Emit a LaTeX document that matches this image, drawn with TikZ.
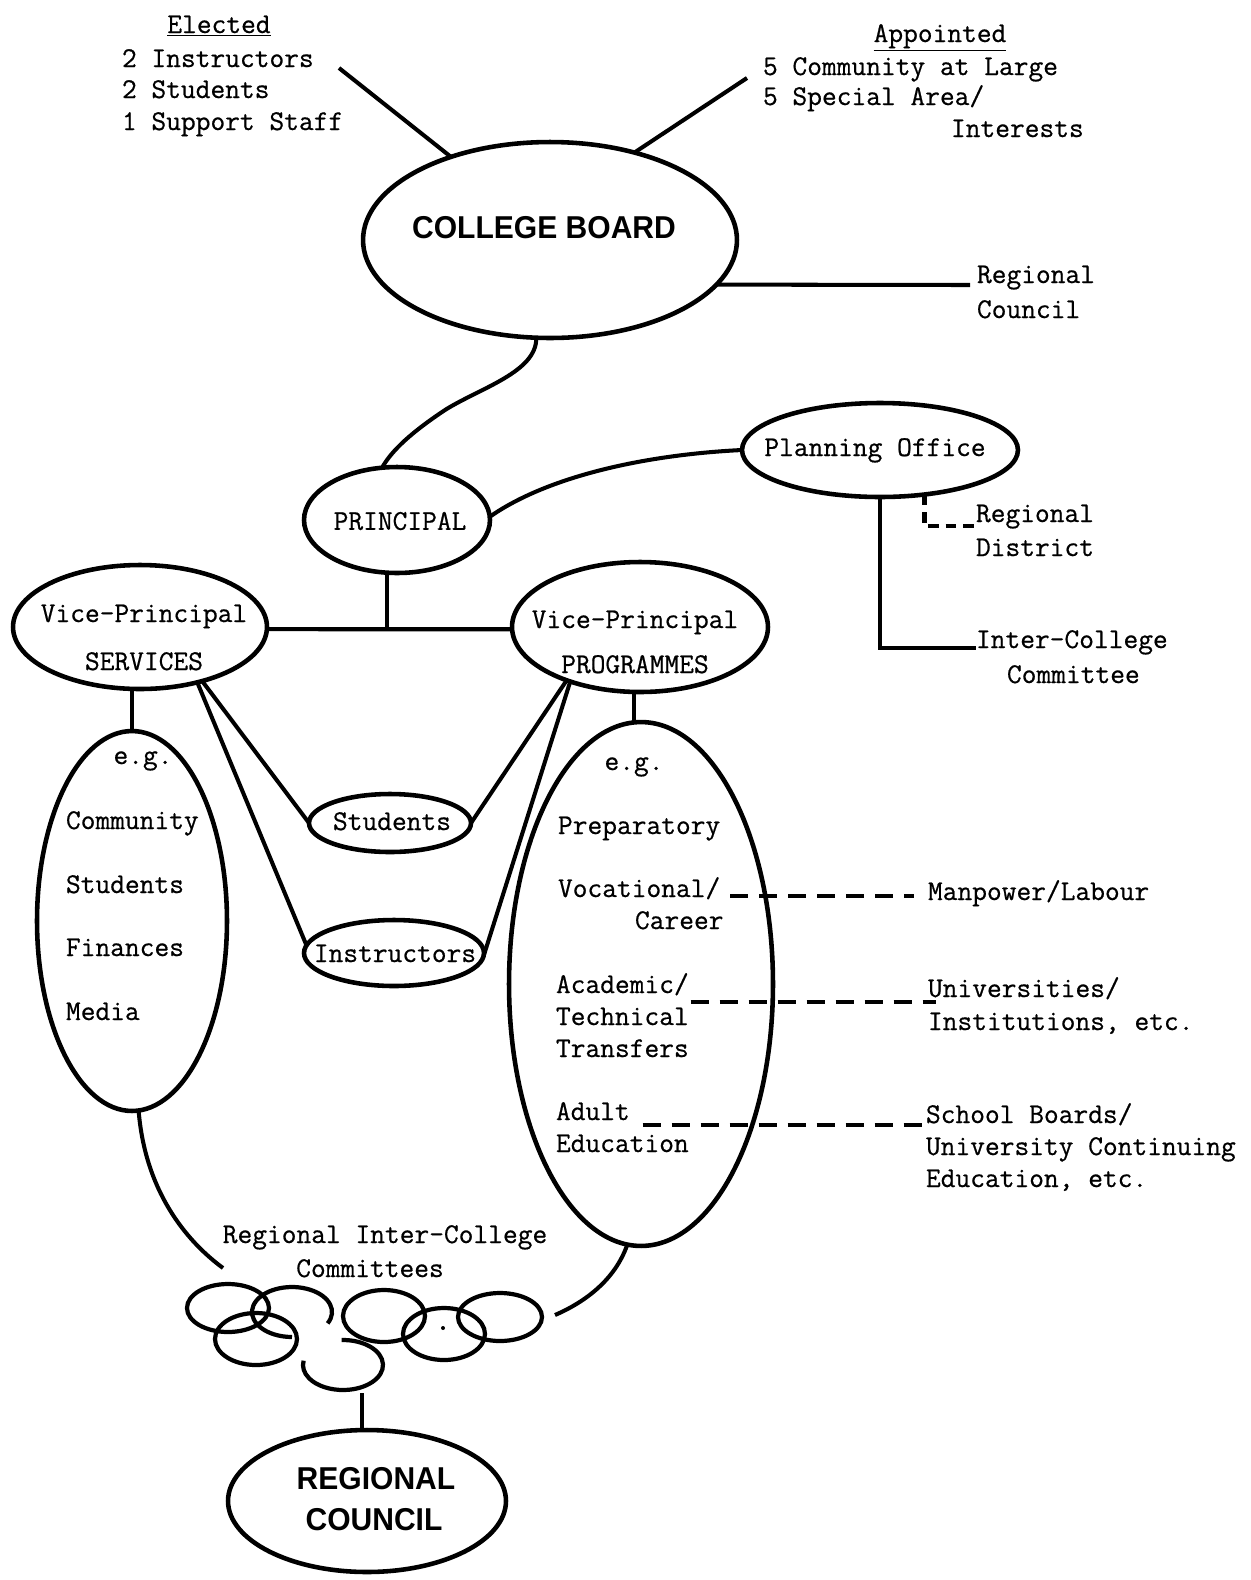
\documentclass[tikz,border=0pt]{standalone}
\usepackage{graphicx}
\usepackage{fontspec}
\newfontfamily\tw{Latin Modern Mono}[FakeBold=0.6]
\newfontfamily\headfont{Liberation Sans}
\usetikzlibrary{shapes.geometric}
\newcommand{\bighead}[1]{\scalebox{0.95}[1.0]{\headfont\fontsize{18}{18}\selectfont\bfseries #1}}
\begin{document}
\begin{tikzpicture}[x=0.02cm,y=-0.02cm,
  every node/.style={inner sep=0pt, outer sep=0pt},
  txt/.style={font=\tw\fontsize{16.3}{20}\selectfont},
  tl/.style={txt, anchor=base west},
  tc/.style={txt, anchor=base},
  oval/.style={draw, ellipse, line width=2.6pt},
  conn/.style={line width=2.3pt},
  dconn/.style={line width=2.6pt, dash pattern=on 0.36cm off 0.22cm},
  ring/.style={line width=2.4pt}]
\fill[white] (0,0) rectangle (1251,1580);
\useasboundingbox (0,0) rectangle (1251,1580);

% ---- ellipses
\node[oval, minimum width=7.48cm, minimum height=3.92cm] (cb) at (550,240) {};
\node[oval, minimum width=3.72cm, minimum height=2.12cm] (pr) at (397,520) {};
\node[oval, minimum width=5.52cm, minimum height=1.88cm] (po) at (880,450) {};
\node[oval, minimum width=5.08cm, minimum height=2.48cm] (vps) at (140,627) {};
\node[oval, minimum width=5.12cm, minimum height=2.60cm] (vpp) at (640,627) {};
\node[oval, minimum width=3.80cm, minimum height=7.60cm] (svc) at (132,921) {};
\node[oval, minimum width=5.28cm, minimum height=10.48cm] (prg) at (641,984) {};
\node[oval, minimum width=3.24cm, minimum height=1.16cm] (st) at (390,823) {};
\node[oval, minimum width=3.60cm, minimum height=1.32cm] (ins) at (394,953) {};
\node[oval, minimum width=5.56cm, minimum height=2.84cm] (rc) at (367,1501) {};

% ---- texts
\node[tc] (elh) at (219,33) {\underline{Elected}};
\node[tl] (el1) at (122,67) {2 Instructors};
\node[tl] (el2) at (122,98) {2 Students};
\node[tl] (el3) at (122,130) {1 Support Staff};
\node[tc] (aph) at (940,42) {\underline{Appointed}};
\node[tl] (ap1) at (763,75) {5 Community at Large};
\node[tl] (ap2) at (763,105) {5 Special Area/};
\node[tl] (ap3) at (951,137) {Interests};
\node (cbt) at (544,228) {\bighead{COLLEGE BOARD}};
\node[tl] (rg1) at (977,283) {Regional};
\node[tl] (rg2) at (977,318) {Council};
\node[tc] (pot) at (875,456) {Planning Office};
\node[txt] (prt) at (400,521) {PRINCIPAL};
\node[tl] (rd1) at (976,522) {Regional};
\node[tl] (rd2) at (976,556) {District};
\node[tl] (ic1) at (976,648) {Inter-College};
\node[tl] (ic2) at (1007,683) {Committee};
\node[tc] (vs1) at (144,622) {Vice-Principal};
\node[tc] (vs2) at (144,670) {SERVICES};
\node[tc] (vp1) at (635,628) {Vice-Principal};
\node[tc] (vp2) at (635,673) {PROGRAMMES};
\node[tc] (stt) at (392,830) {Students};
\node[tc] (inst) at (395,962) {Instructors};
\node[tc] (sv0) at (143,764) {e.g.};
\node[tl] (sv1) at (66,829) {Community};
\node[tl] (sv2) at (66,893) {Students};
\node[tl] (sv3) at (66,956) {Finances};
\node[tl] (sv4) at (66,1020) {Media};
\node[tc] (pg0) at (634,770) {e.g.};
\node[tl] (pg1) at (558,834) {Preparatory};
\node[tl] (voc) at (558,897) {Vocational/};
\node[tl] (car) at (635,929) {Career};
\node[tl] (acad) at (556,993) {Academic/};
\node[tl] (tec) at (556,1025) {Technical};
\node[tl] (trn) at (556,1057) {Transfers};
\node[tl] (adl) at (556,1120) {Adult};
\node[tl] (edu) at (556,1152) {Education};
\node[tl] (mp) at (928,900) {Manpower/Labour};
\node[tl] (un1) at (928,997) {Universities/};
\node[tl] (un2) at (928,1030) {Institutions, etc.};
\node[tl] (sb1) at (926,1123) {School Boards/};
\node[tl] (sb2) at (926,1155) {University Continuing};
\node[tl] (sb3) at (926,1187) {Education, etc.};
\node[tc] (ric1) at (385,1243) {Regional Inter-College};
\node[tc] (ric2) at (370,1277) {Committees};
\node (rct1) at (376,1479) {\bighead{REGIONAL}};
\node (rct2) at (374,1520) {\bighead{COUNCIL}};

% ---- free ends
\coordinate (e1) at (339,68);
\coordinate (a1) at (747,78);
\coordinate (rce) at (970,285);
\coordinate (j) at (387,629);
\coordinate (b1) at (223,1268);
\coordinate (b2) at (555,1315);
\coordinate (ringb) at (362,1393);

% ---- connectors
\draw[conn] (cb.140) -- (e1);
\draw[conn] (cb.46) -- (a1);
\draw[conn] (cb.-15) -- (rce);
\draw[conn] (cb.-98) .. controls (537,372) and (480,388) .. (445,410)
  .. controls (412,432) and (392,450) .. (pr.106);
\draw[conn] (pr.2) .. controls (545,478) and (640,455) .. (po.180);
\draw[conn] (po.south) |- (ic1.base west);
\draw[line width=2.3pt, dash pattern=on 6pt off 4pt] (po.-45.3) |- ([yshift=-0.08cm]rd1.base west);
\draw[conn] (vps.-1) -- (vpp.181);
\draw[conn] (j |- pr.south) -- (j);
\draw[conn] (svc.north |- vps.south) -- (svc.north);
\draw[conn] (vpp.-95) -- (vpp.-95 |- prg.north);
\draw[conn] (vps.-41) -- (st.180);
\draw[conn] (vps.-44) -- (ins.175);
\draw[conn] (vpp.216) -- (st.0);
\draw[conn] (vpp.218) -- (ins.-2);
\draw[dconn, shorten >=0.28cm] ([xshift=0.2cm,yshift=0.02cm]voc.base east) -- ([yshift=0.02cm]voc.base east -| mp.west);
\draw[dconn, shorten >=-0.16cm] ([xshift=0.04cm,yshift=-0.18cm]acad.base east) -- ([yshift=-0.18cm]acad.base east -| un1.west);
\draw[dconn] ([xshift=0.26cm,yshift=-0.1cm]adl.base east) -- ([yshift=-0.1cm]adl.base east -| sb1.west);
\draw[conn] (svc.-88) .. controls (145,1190) and (185,1240) .. (b1);
\draw[conn] (prg.-93) .. controls (615,1280) and (585,1302) .. (b2);

% ---- committee rings
\draw[ring] (228,1308) ellipse [x radius=0.82cm, y radius=0.48cm];
\draw[ring] ([shift={(-27:0.8cm and 0.5cm)}]292,1312) arc[start angle=-27, end angle=270, x radius=0.8cm, y radius=0.5cm];
\draw[ring] (256,1339) ellipse [x radius=0.82cm, y radius=0.52cm];
\draw[ring] (384,1316) ellipse [x radius=0.82cm, y radius=0.52cm];
\draw[ring] ([shift={(92:0.8cm and 0.5cm)}]343,1365) arc[start angle=92, end angle=-190, x radius=0.8cm, y radius=0.5cm];
\draw[ring] (444,1334) ellipse [x radius=0.82cm, y radius=0.52cm];
\draw[ring] (500,1317) ellipse [x radius=0.84cm, y radius=0.48cm];
\fill (443,1328) circle[radius=0.04cm];
\draw[conn] (ringb) -- (ringb |- rc.north);
\end{tikzpicture}
\end{document}
